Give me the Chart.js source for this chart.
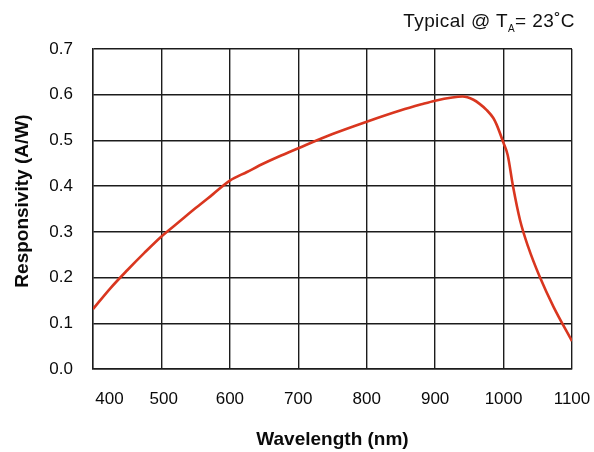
<!DOCTYPE html>
<html>
<head>
<meta charset="utf-8">
<title>Responsivity vs Wavelength</title>
<script src="https://cdn.jsdelivr.net/npm/chart.js@4.4.1/dist/chart.umd.min.js"></script>
<style>
  html, body { margin: 0; padding: 0; background: #fff; }
  #wrap { position: relative; width: 594px; height: 452px; }
  #note {
    position: absolute; right: 19px; top: 10px;
    font: 19px "Liberation Sans", Arial, sans-serif; letter-spacing: 0.4px;
    color: #111; white-space: nowrap;
  }
  #note sub { font-size: 10px; vertical-align: -5px; line-height: 0; }
</style>
</head>
<body>
<div id="wrap">
  <canvas id="respChart" width="594" height="452"></canvas>
  <div id="note">Typical @ T<sub>A</sub>= 23˚C</div>
</div>
<script>
// ---- data ----
const wavelengths = [400, 425, 450, 475, 500, 525, 550, 575, 600, 625, 650, 675, 700, 750, 800, 850, 880, 900, 925, 940, 956, 965, 975, 985, 990, 1000, 1006, 1014, 1024, 1036, 1053, 1073, 1100];
const responsivity = [0.131, 0.176, 0.216, 0.254, 0.290, 0.321, 0.352, 0.382, 0.412, 0.431, 0.450, 0.467, 0.483, 0.514, 0.541, 0.566, 0.579, 0.587, 0.594, 0.596, 0.589, 0.580, 0.567, 0.549, 0.534, 0.494, 0.468, 0.398, 0.326, 0.267, 0.201, 0.136, 0.061];

const xTickLabels = { 400: "       400", 500: " 500" };   // first labels sit a bit right of the grid line
const xTitle = "Wavelength (nm)";
const yTitle = "   Responsivity (A/W)";

const tickFont = { family: "'Liberation Sans', Arial, sans-serif", size: 17 };
const titleFont = { family: "'Liberation Sans', Arial, sans-serif", size: 19, weight: "bold" };
const gridColor = "#1c1c1c";

function initChart() {
  const ctx = document.getElementById("respChart").getContext("2d");

  new Chart(ctx, {
    type: "line",
    data: {
      datasets: [{
        data: wavelengths.map((w, i) => ({ x: w, y: responsivity[i] })),
        borderColor: "#d9361f",
        borderWidth: 2.6,
        pointRadius: 0,
        cubicInterpolationMode: "monotone",
        fill: false
      }]
    },
    options: {
      responsive: false,
      animation: false,
      layout: { padding: { top: 49, right: 22, left: 0, bottom: 0 } },
      plugins: {
        legend: { display: false },
        tooltip: { enabled: false }
      },
      scales: {
        x: {
          type: "linear",
          min: 400,
          max: 1100,
          // fixed height, and no extra room for the edge labels
          afterFit: s => { s.height = 83; s.paddingLeft = 0; s.paddingRight = 0; },
          border: { color: gridColor, width: 1.4 },
          grid: { color: gridColor, lineWidth: 1.4, drawTicks: false },
          ticks: {
            stepSize: 100,
            padding: 20,
            color: "#0a0a0a",
            font: tickFont,
            maxRotation: 0,
            callback: v => xTickLabels[v] || String(v)
          },
          title: { display: true, text: xTitle, color: "#0a0a0a", font: titleFont, padding: { top: 0, bottom: 1 } }
        },
        y: {
          min: 0,
          max: 0.7,
          afterFit: s => { s.width = 93; },
          border: { color: gridColor, width: 1.4 },
          grid: { color: gridColor, lineWidth: 1.4, drawTicks: false },
          ticks: {
            stepSize: 0.1,
            padding: 20,
            color: "#0a0a0a",
            font: tickFont,
            callback: v => v.toFixed(1)
          },
          title: { display: true, text: yTitle, color: "#0a0a0a", font: titleFont, padding: { top: 11, bottom: 0 } }
        }
      }
    }
  });
}

initChart();
</script>
</body>
</html>
